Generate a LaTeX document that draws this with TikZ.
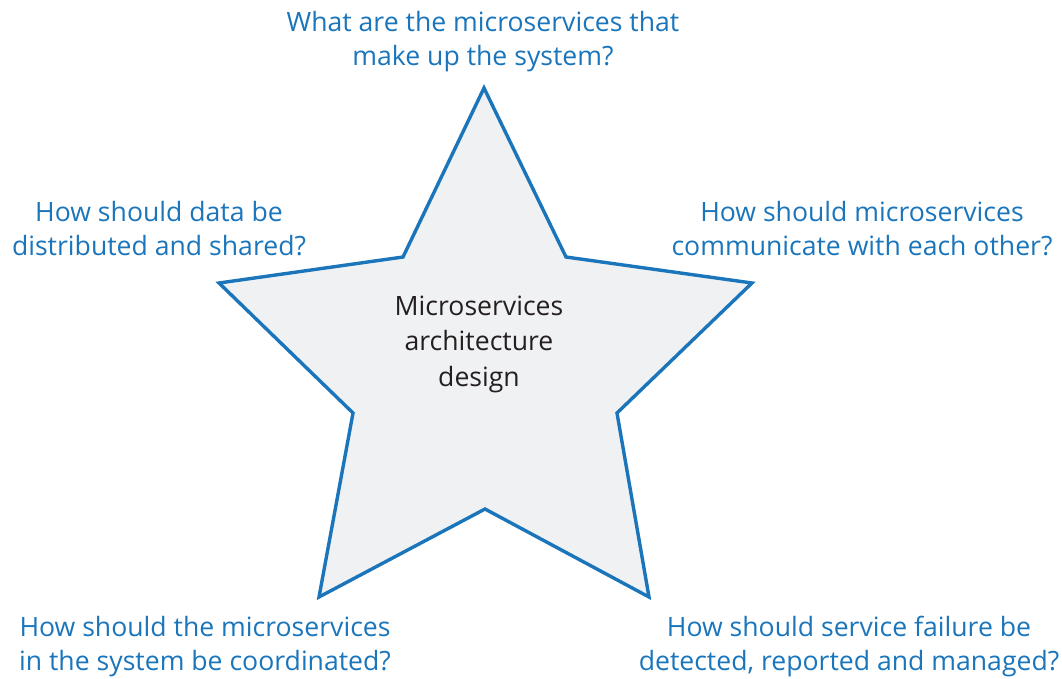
\documentclass[tikz,border=0pt]{standalone}
\usepackage{fontspec}
\setmainfont{Open Sans}
\definecolor{qblue}{HTML}{1A75BB}
\definecolor{starfill}{HTML}{F0F1F3}
\definecolor{dark}{HTML}{231F20}
\begin{document}
\begin{tikzpicture}[x=1pt,y=-1pt,
  question/.style={text=qblue,align=center,font=\fontsize{26.6}{34}\selectfont,inner sep=0pt},
  centre/.style={text=dark,align=center,font=\fontsize{26.6}{35.5}\selectfont,inner sep=0pt}]
\useasboundingbox (0,0) rectangle (1062,678);
\coordinate (p1) at (484,88);
\coordinate (p2) at (566,257);
\coordinate (p3) at (752,283);
\coordinate (p4) at (617,413);
\coordinate (p5) at (649,597);
\coordinate (p6) at (485,509);
\coordinate (p7) at (319,597);
\coordinate (p8) at (353,413);
\coordinate (p9) at (219,283);
\coordinate (p10) at (403,257);
\draw[qblue,line width=3.4pt,fill=starfill,line join=miter]
  (p1) -- (p2) -- (p3) -- (p4) -- (p5) -- (p6) -- (p7) -- (p8) -- (p9) -- (p10) -- cycle;
\node[centre] (c) at (479,344) {Microservices\\architecture\\design};
\node[question] (q1) at (483,42) {What are the microservices that\\make up the system?};
\node[question] (q2) at (159,229) {How should data be\\distributed and shared?};
\node[question] (q3) at (862,229) {How should microservices\\communicate with each other?};
\node[question] (q4) at (205,647) {How should the microservices\\in the system be coordinated?};
\node[question] (q5) at (849,647) {How should service failure be\\detected, reported and managed?};
\end{tikzpicture}
\end{document}
